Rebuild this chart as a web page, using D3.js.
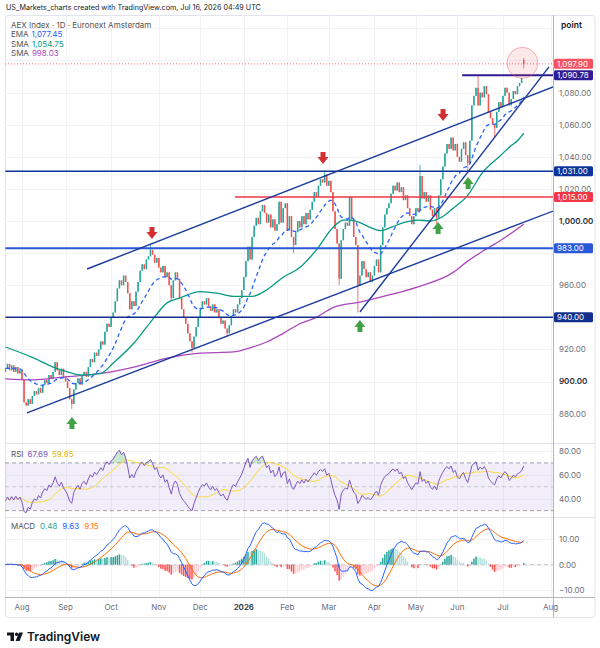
<!DOCTYPE html>
<html>
<head>
<meta charset="utf-8">
<script src="https://cdn.jsdelivr.net/npm/d3@7"></script>
<style>
html, body { margin: 0; padding: 0; background: #fff; }
svg { display: block; font-family: Inter, "Noto Sans", sans-serif; }
</style>
</head>
<body>
<svg width="600" height="648"></svg>
<script>
// AEX Index, daily, 22 Jul 2025 -> 15 Jul 2026 (closes)
const closes = [
  908, 911, 907, 910, 906, 909, 905, 907, 901, 887,
  885, 889, 886, 891, 894, 892, 896, 893, 898, 901,
  899, 904, 902, 906, 912, 907, 904, 908, 903, 900,
  896, 889, 886, 895, 899, 902, 898, 904, 906, 903,
  909, 914, 912, 918, 916, 920, 925, 923, 931, 936,
  934, 940, 943, 950, 958, 963, 960, 966, 962, 955,
  945, 950, 947, 956, 962, 969, 973, 970, 976, 978,
  982, 979, 974, 977, 971, 968, 972, 965, 968, 960,
  952, 963, 968, 964, 952, 945, 940, 936, 930, 925,
  921, 928, 934, 940, 946, 950, 948, 952, 947, 944,
  948, 943, 945, 940, 936, 938, 933, 930, 935, 941,
  945, 943, 948, 952, 957, 965, 975, 984, 976, 990,
  997, 1002, 998, 1006, 1010, 1005, 999, 1004, 996, 1001,
  994, 998, 1012, 999, 1008, 1011, 994, 1003, 990, 985,
  993, 1000, 996, 1003, 998, 1005, 1001, 1007, 1012, 1018,
  1015, 1022, 1026, 1024, 1029, 1022, 1025, 1018, 1006, 995,
  986, 964, 988, 995, 999, 997, 1015, 1001, 990, 985,
  960, 966, 975, 970, 965, 968, 962, 966, 972, 976,
  968, 985, 996, 1004, 1008, 1011, 1017, 1022, 1019, 1024,
  1018, 1021, 1013, 1016, 1008, 1003, 998, 1003, 1008, 1006,
  1028, 1014, 1018, 1012, 1016, 1007, 1003, 1008, 1002, 1016,
  1026, 1034, 1042, 1048, 1045, 1052, 1044, 1048, 1040, 1037,
  1045, 1049, 1041, 1036, 1050, 1072, 1078, 1083, 1072, 1080,
  1077, 1084, 1079, 1068, 1064, 1060, 1058, 1068, 1074, 1071,
  1078, 1083, 1080, 1072, 1076, 1081, 1079, 1084, 1086, 1089,
  1097.9
];
// notable wicks / gap opens [bar index, price]
const wickHighs = [[70, 985], [154, 1031.5], [200, 1035], [228, 1090.78], [250, 1101.5]];
const wickLows = [[32, 883], [80, 950], [90, 918], [107, 928], [139, 980], [161, 960],
                  [170, 943], [208, 998], [223, 1031], [236, 1052], [250, 1095]];
const gapOpens = [[0, 906], [250, 1100.3]];

// moving averages [bar index, value]
const sma50Pts = [[0, 921.5], [13, 915], [23, 909], [30, 906], [37, 904], [46, 905], [52, 911.5],
  [62, 924], [70, 937], [78, 949], [84, 952], [94, 956], [102, 955], [110, 953], [119, 953],
  [126, 957], [134, 965], [142, 971], [150, 982], [158, 996], [163, 1000.6], [166, 1000.6],
  [171, 999], [176, 996], [181, 994], [186, 996], [192, 999], [199, 1000.6], [205, 1000],
  [210, 1002], [216, 1008], [223, 1016], [230, 1030], [239, 1041], [244, 1047], [247, 1050], [250, 1054.75]];
const sma200Pts = [[0, 901.6], [13, 901], [30, 903], [46, 905], [62, 909], [78, 914.6], [94, 917.7],
  [110, 918.4], [118, 921], [126, 924.6], [134, 930], [142, 936], [150, 940], [158, 946],
  [171, 949.5], [181, 952.6], [199, 959], [216, 968], [223, 975], [230, 981], [239, 988], [250, 998.03]];

// drawings (bar index / price)
const levelValues = [1031, 1015, 983, 940, 1090.78];
const levelFrom = [0, 110.7, 0, 0, 220.3];
const trendLines = [[39.4, 970.1, 264.2, 1083.5], [10.4, 880.4, 264.2, 1006.2], [171, 943.3, 262.2, 1096]];
const downArrows = [[70.7, 992.5], [153.2, 1039.3], [211.1, 1066]];
const upArrows = [[32.1, 874.1], [171, 934.6], [208.7, 995.6], [223.2, 1023.7]];
const lastPrice = 1097.9;

const legendMain = ["1,077.45", "1,054.75", "998.03"];
const legendRsi = ["67.69", "59.85"];
const legendMacd = ["0.48", "9.63", "9.15"];

const gridTicks = d3.range(880, 1121, 20);
const priceTicks = d3.range(880, 1101, 20);
const rsiTicks = [40, 60, 80];
const macdTicks = [-10, 0, 10];

// ---------------------------------------------------------------
const svg = d3.select("svg");
const plotL = 5, plotR = 553, frameR = 595;
const mainTop = 15, mainBot = 443, rsiBot = 517, macdBot = 597, frameBot = 617;
const n = closes.length;
const FS = 8;

// trading calendar (no weekends / Euronext holidays)
const holidays = ["2025-12-25", "2025-12-26", "2026-01-01", "2026-04-03", "2026-04-06", "2026-05-01"];
const fmtDay = d3.timeFormat("%Y-%m-%d");
const dates = [];
for (let d = new Date(2025, 6, 22); dates.length < n + 14; d = d3.timeDay.offset(d, 1)) {
  const wd = d.getDay();
  if (wd === 0 || wd === 6 || holidays.includes(fmtDay(d))) continue;
  dates.push(d);
}

const x = d3.scaleLinear().domain([0, n - 1]).range([5.4, 523.7]);
const y = d3.scaleLinear().domain([880, 1080]).range([413.6, 92.6]);
const yR = d3.scaleLinear().domain([40, 80]).range([498.7, 451]);
const yM = d3.scaleLinear().domain([-10, 10]).range([590.3, 539]);

// candles
const hiMap = new Map(wickHighs), loMap = new Map(wickLows), opMap = new Map(gapOpens);
const candles = closes.map((c, i) => {
  const o = opMap.has(i) ? opMap.get(i) : closes[i - 1];
  return { i, o, c,
    h: Math.max(o, c, hiMap.has(i) ? hiMap.get(i) : -Infinity),
    l: Math.min(o, c, loMap.has(i) ? loMap.get(i) : Infinity) };
});

// indicators
function ema(arr, len) {
  const k = 2 / (len + 1);
  let prev = arr[0];
  return arr.map((v, i) => (prev = i ? v * k + prev * (1 - k) : v));
}
const ema20 = ema(closes, 20);
const ch = closes.map((c, i) => (i ? c - closes[i - 1] : 0));
let ag = d3.mean(ch.slice(1, 15), d => Math.max(d, 0));
let al = d3.mean(ch.slice(1, 15), d => Math.max(-d, 0));
const rsi = ch.map((d, i) => {
  if (i) { ag = (ag * 13 + Math.max(d, 0)) / 14; al = (al * 13 + Math.max(-d, 0)) / 14; }
  return 100 - 100 / (1 + ag / al);
});
const rsiMa = rsi.map((v, i) => d3.mean(rsi.slice(Math.max(0, i - 13), i + 1)));
const e12 = ema(closes, 12), e26 = ema(closes, 26);
const macd = e12.map((v, i) => v - e26[i]);
const signal = ema(macd, 9);
const hist = macd.map((v, i) => v - signal[i]);

// text row helper: places pieces one after another
function textRow(g, x0, yb, items, gap) {
  let cx = x0;
  items.forEach(it => {
    const t = g.append("text").attr("x", cx).attr("y", yb).attr("font-size", FS).attr("fill", it.fill).text(it.text);
    cx += t.node().getComputedTextLength() + gap;
  });
}

// frame
svg.append("text").attr("x", 6).attr("y", 10).attr("font-size", 7.2).attr("fill", "#222")
  .text("US_Markets_charts created with TradingView.com, Jul 16, 2026 04:49 UTC");
svg.append("rect").attr("x", 5.5).attr("y", mainTop + 0.5).attr("width", frameR - 5.5)
  .attr("height", frameBot - mainTop).attr("rx", 3).attr("fill", "#fff").attr("stroke", "#e0e3eb");

// grid
const grid = svg.append("g").attr("stroke", "#f0f2f7").attr("stroke-width", 1);
const monthIdx = dates.map((d, i) => i).filter(i => i > 0 && dates[i].getMonth() !== dates[i - 1].getMonth());
monthIdx.forEach(i => {
  if (x(i) < plotR) grid.append("line").attr("x1", Math.round(x(i)) + 0.5).attr("x2", Math.round(x(i)) + 0.5)
    .attr("y1", mainTop).attr("y2", macdBot);
});
gridTicks.forEach(t => grid.append("line").attr("x1", plotL).attr("x2", plotR)
  .attr("y1", Math.round(y(t)) + 0.5).attr("y2", Math.round(y(t)) + 0.5));
rsiTicks.forEach(t => grid.append("line").attr("x1", plotL).attr("x2", plotR)
  .attr("y1", Math.round(yR(t)) + 0.5).attr("y2", Math.round(yR(t)) + 0.5));
macdTicks.forEach(t => grid.append("line").attr("x1", plotL).attr("x2", plotR)
  .attr("y1", Math.round(yM(t)) + 0.5).attr("y2", Math.round(yM(t)) + 0.5));

// pane separators
const sep = svg.append("g").attr("stroke", "#e0e3eb");
[mainBot, rsiBot].forEach(v => sep.append("line").attr("x1", plotL).attr("x2", frameR).attr("y1", v + 0.5).attr("y2", v + 0.5));
svg.append("line").attr("x1", plotL).attr("x2", frameR).attr("y1", macdBot + 0.5).attr("y2", macdBot + 0.5).attr("stroke", "#b2b5be");
svg.append("line").attr("x1", plotR + 0.5).attr("x2", plotR + 0.5).attr("y1", mainTop).attr("y2", frameBot).attr("stroke", "#b2b5be");

// clip for main pane
const defs = svg.append("defs");
defs.append("clipPath").attr("id", "mainClip").append("rect")
  .attr("x", plotL).attr("y", mainTop).attr("width", plotR - plotL).attr("height", mainBot - mainTop);
const main = svg.append("g").attr("clip-path", "url(#mainClip)");

// last price dotted line
main.append("line").attr("x1", plotL).attr("x2", plotR).attr("y1", y(lastPrice)).attr("y2", y(lastPrice))
  .attr("stroke", "#f7525f").attr("stroke-dasharray", "1 2").attr("opacity", 0.8);

// candles
const cg = main.append("g");
cg.selectAll("line").data(candles).join("line")
  .attr("x1", d => x(d.i)).attr("x2", d => x(d.i))
  .attr("y1", d => y(d.h)).attr("y2", d => y(d.l))
  .attr("stroke", d => (d.c >= d.o ? "#26a69a" : "#ef5350")).attr("stroke-width", 0.8);
cg.selectAll("rect").data(candles).join("rect")
  .attr("x", d => x(d.i) - 0.75).attr("width", 1.5)
  .attr("y", d => y(Math.max(d.o, d.c)))
  .attr("height", d => Math.max(0.8, Math.abs(y(d.o) - y(d.c))))
  .attr("fill", d => (d.c >= d.o ? "#26a69a" : "#ef5350"));

// moving averages
const maLine = d3.line().x(d => x(d[0])).y(d => y(d[1])).curve(d3.curveMonotoneX);
main.append("path").datum(sma200Pts).attr("d", maLine).attr("fill", "none")
  .attr("stroke", "#ab47bc").attr("stroke-width", 1.3);
main.append("path").datum(sma50Pts).attr("d", maLine).attr("fill", "none")
  .attr("stroke", "#089981").attr("stroke-width", 1.3);
main.append("path").datum(ema20.map((v, i) => [i, v])).attr("d", d3.line().x(d => x(d[0])).y(d => y(d[1])))
  .attr("fill", "none").attr("stroke", "#2962ff").attr("stroke-width", 1.3).attr("stroke-dasharray", "4 3");

// horizontal levels
const levelColors = ["#0d3399", "#f23645", "#2a58d6", "#132f8c", "#311b92"];
const levelWidths = [1.5, 1.5, 2, 1.5, 2];
levelValues.forEach((v, k) => {
  main.append("line").attr("x1", x(levelFrom[k]) < plotL ? plotL : x(levelFrom[k])).attr("x2", plotR)
    .attr("y1", y(v)).attr("y2", y(v)).attr("stroke", levelColors[k]).attr("stroke-width", levelWidths[k]);
});

// trend lines
trendLines.forEach(t => {
  main.append("line").attr("x1", x(t[0])).attr("y1", y(t[1])).attr("x2", x(t[2])).attr("y2", y(t[3]))
    .attr("stroke", "#1a3a9c").attr("stroke-width", 1.4);
});

// arrows
function arrow(g, cx, cy, s, color) {
  g.append("path").attr("fill", color).attr("d",
    `M${cx - 2.5},${cy - 6 * s} L${cx + 2.5},${cy - 6 * s} L${cx + 2.5},${cy - 1 * s} L${cx + 5.5},${cy - 1 * s}
     L${cx},${cy + 6 * s} L${cx - 5.5},${cy - 1 * s} L${cx - 2.5},${cy - 1 * s} Z`);
}
downArrows.forEach(a => arrow(main, x(a[0]), y(a[1]), 1, "#d32f2f"));
upArrows.forEach(a => arrow(main, x(a[0]), y(a[1]), -1, "#43a047"));

// highlight circle around last bar
main.append("circle").attr("cx", x(n - 1.6)).attr("cy", y(lastPrice) - 1).attr("r", 15.5)
  .attr("fill", "rgba(247,82,95,0.13)").attr("stroke", "rgba(247,82,95,0.45)").attr("stroke-width", 1);

// legend main
const lg = svg.append("g");
lg.append("text").attr("x", 11).attr("y", 27.5).attr("font-size", FS).attr("fill", "#555")
  .text("AEX Index · 1D · Euronext Amsterdam");
const maNames = ["EMA", "SMA", "SMA"], maColors = ["#2962ff", "#089981", "#ab47bc"];
legendMain.forEach((s, k) => textRow(lg, 11, 37 + k * 9.5, [{ text: maNames[k], fill: "#555" }, { text: s, fill: maColors[k] }], 3));
svg.append("text").attr("x", 561).attr("y", 27.5).attr("font-size", 8.5).attr("font-weight", 600)
  .attr("fill", "#131722").text("point");

// price axis labels (hide the ones a tag covers)
const fmt = d3.format(",.2f");
const tagVals = levelValues.concat([lastPrice]);
const ax = svg.append("g").attr("font-size", FS);
priceTicks.filter(t => !tagVals.some(v => Math.abs(y(v) - y(t)) < 7)).forEach(t => {
  ax.append("text").attr("x", 559).attr("y", y(t) + 2.9).attr("fill", t % 100 === 0 ? "#2a2e39" : "#6b6e78")
    .attr("font-weight", t % 100 === 0 ? 600 : 400).text(fmt(t));
});
function tag(v, fill) {
  ax.append("rect").attr("x", plotR + 1).attr("y", y(v) - 5).attr("width", 39).attr("height", 10)
    .attr("rx", 1.5).attr("fill", fill);
  ax.append("text").attr("x", 557).attr("y", y(v) + 2.9).attr("fill", "#fff").text(fmt(v));
}
levelValues.forEach((v, k) => tag(v, levelColors[k]));
tag(lastPrice, "#f7525f");

// RSI pane
const rg = svg.append("g");
rg.append("rect").attr("x", plotL).attr("width", plotR - plotL).attr("y", yR(70)).attr("height", yR(30) - yR(70))
  .attr("fill", "rgba(126,87,194,0.1)");
[70, 50, 30].forEach(v => rg.append("line").attr("x1", plotL).attr("x2", plotR).attr("y1", yR(v)).attr("y2", yR(v))
  .attr("stroke", "#787b86").attr("stroke-dasharray", "4 3").attr("opacity", v === 50 ? 0.35 : 0.7));
rg.append("path").datum(rsi).attr("fill", "rgba(76,175,80,0.3)")
  .attr("d", d3.area().x((d, i) => x(i)).y0(yR(70)).y1(d => yR(Math.max(70, d))));
rg.append("path").datum(rsiMa).attr("fill", "none").attr("stroke", "#fdd835").attr("stroke-width", 1)
  .attr("d", d3.line().x((d, i) => x(i)).y(d => yR(d)));
rg.append("path").datum(rsi).attr("fill", "none").attr("stroke", "#7e57c2").attr("stroke-width", 1)
  .attr("d", d3.line().x((d, i) => x(i)).y(d => yR(d)));
textRow(rg, 11, 457, [{ text: "RSI", fill: "#555" }, { text: legendRsi[0], fill: "#7e57c2" },
  { text: legendRsi[1], fill: "#e8b800" }], 4);
rsiTicks.forEach(t => rg.append("text").attr("x", 559).attr("y", yR(t) + 2.9).attr("font-size", FS)
  .attr("fill", "#6b6e78").text(fmt(t)));

// MACD pane
const mg = svg.append("g");
mg.append("line").attr("x1", plotL).attr("x2", plotR).attr("y1", yM(0)).attr("y2", yM(0))
  .attr("stroke", "#787b86").attr("stroke-dasharray", "4 3").attr("opacity", 0.4);
mg.selectAll("rect").data(hist).join("rect")
  .attr("x", (d, i) => x(i) - 0.75).attr("width", 1.5)
  .attr("y", d => Math.min(yM(0), yM(d))).attr("height", d => Math.abs(yM(d) - yM(0)))
  .attr("fill", (d, i) => {
    const prev = i ? hist[i - 1] : d;
    return d >= 0 ? (d >= prev ? "#26a69a" : "#b2dfdb") : (d < prev ? "#ff5252" : "#ffcdd2");
  });
mg.append("path").datum(signal).attr("fill", "none").attr("stroke", "#ff6d00").attr("stroke-width", 1)
  .attr("d", d3.line().x((d, i) => x(i)).y(d => yM(d)));
mg.append("path").datum(macd).attr("fill", "none").attr("stroke", "#2962ff").attr("stroke-width", 1)
  .attr("d", d3.line().x((d, i) => x(i)).y(d => yM(d)));
textRow(mg, 11, 529, [{ text: "MACD", fill: "#555" }, { text: legendMacd[0], fill: "#26a69a" },
  { text: legendMacd[1], fill: "#2962ff" }, { text: legendMacd[2], fill: "#ff6d00" }], 5);
macdTicks.forEach(t => mg.append("text").attr("x", 559).attr("y", yM(t) + 2.9).attr("font-size", FS)
  .attr("fill", "#6b6e78").text(t < 0 ? "\u2212" + fmt(-t) : fmt(t)));

// time axis
const tg = svg.append("g").attr("font-size", FS).attr("text-anchor", "middle");
monthIdx.forEach(i => {
  if (x(i) > plotR) return;
  const isYear = dates[i].getMonth() === 0;
  tg.append("text").attr("x", x(i)).attr("y", 610)
    .attr("fill", isYear ? "#2a2e39" : "#6b6e78").attr("font-weight", isYear ? 600 : 400)
    .text(isYear ? d3.timeFormat("%Y")(dates[i]) : d3.timeFormat("%b")(dates[i]));
});

// TradingView logo
const logo = svg.append("g").attr("fill", "#131722");
logo.append("path").attr("d", "M7,632.5 H14 V641 H10.5 V635.5 H7 Z");
logo.append("circle").attr("cx", 16.6).attr("cy", 634.2).attr("r", 1.7);
logo.append("path").attr("d", "M19,632.5 H23 L19.6,641 H15.6 Z");
svg.append("text").attr("x", 27).attr("y", 641).attr("font-size", 12).attr("font-weight", 600)
  .attr("fill", "#131722").text("TradingView");
</script>
</body>
</html>
